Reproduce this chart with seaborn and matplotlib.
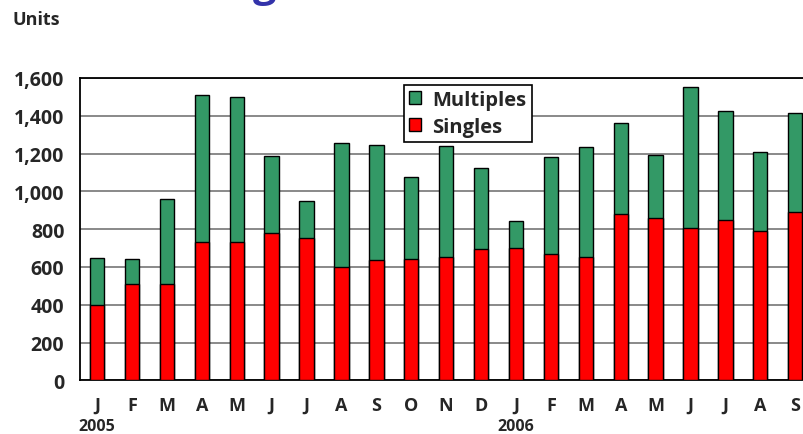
import pandas as pd
import matplotlib
matplotlib.use("Agg")
import matplotlib.pyplot as plt
import seaborn as sns
from matplotlib.patches import Patch
from matplotlib.transforms import blended_transform_factory

# === data ===
months = ["J", "F", "M", "A", "M", "J", "J", "A", "S", "O", "N", "D",
          "J", "F", "M", "A", "M", "J", "J", "A", "S"]
years = ["2005", "2006"]
year_start = [0, 12]
singles = [400, 510, 510, 730, 730, 780, 755, 600, 635, 640, 655, 695,
           700, 670, 655, 880, 860, 805, 850, 790, 890]
multiples = [245, 130, 450, 780, 770, 405, 195, 655, 610, 435, 585, 430,
             145, 510, 580, 480, 335, 745, 575, 420, 525]
yticks = [0, 200, 400, 600, 800, 1000, 1200, 1400, 1600]

df = pd.DataFrame({"idx": range(len(months)), "singles": singles, "multiples": multiples})
df["total"] = df["singles"] + df["multiples"]

green = "#339966"
red = "#FF0000"

sns.set_style("white")
plt.rcParams["font.family"] = ["Open Sans", "DejaVu Sans"]
plt.rcParams["font.weight"] = "bold"

fig = plt.figure(figsize=(8.04, 4.35), dpi=100)
ax = fig.add_axes([0.0991, 0.1234, 0.9117, 0.6950])

# green drawn full height, red overlaid -> stacked look
sns.barplot(data=df, x="idx", y="total", color=green, width=0.41,
            edgecolor="black", linewidth=1, saturation=1, ax=ax, zorder=3)
sns.barplot(data=df, x="idx", y="singles", color=red, width=0.41,
            edgecolor="black", linewidth=1, saturation=1, ax=ax, zorder=4)

ax.set_xlim(-0.5, len(months) - 0.5)
ax.set_ylim(0, 1600)
ax.set_yticks(yticks)
ax.set_yticklabels([f"{v:,}" for v in yticks], fontsize=14, fontweight="bold")
ax.yaxis.grid(True, color="#808080", linewidth=1.3, zorder=0)
ax.set_axisbelow(True)

ax.set_xticks(range(len(months)))
ax.set_xticklabels(months, fontsize=13, fontweight="bold")
ax.set_xticks([i - 0.5 for i in range(len(months) + 1)], minor=True)
ax.tick_params(axis="x", which="major", length=0, pad=11)
ax.tick_params(axis="x", which="minor", length=5, width=1, color="#444444", direction="out")
ax.tick_params(axis="y", which="major", length=7, width=1, color="black", direction="out", pad=4)
ax.set_xlabel("")
ax.set_ylabel("")

for s in ["left", "bottom", "top", "right"]:
    ax.spines[s].set_color("black")
    ax.spines[s].set_linewidth(1.3)

trans = blended_transform_factory(ax.transData, fig.transFigure)
for yr, pos in zip(years, year_start):
    ax.text(pos, 1 - 427.5 / 435, yr, transform=trans, ha="center", va="center",
            fontsize=11.5, fontweight="bold")

fig.text(13 / 804, 1 - 20 / 435, "Units", ha="left", va="center", fontsize=13, fontweight="bold")
# fragment of the cut-off title
fig.text(265 / 804, 1 + 4 / 435, "g", ha="center", va="baseline", fontsize=30,
         color="#3333AA", fontweight="bold")

handles = [Patch(facecolor=green, edgecolor="black", linewidth=1, label="Multiples"),
           Patch(facecolor=red, edgecolor="black", linewidth=1, label="Singles")]
leg = ax.legend(handles=handles, loc="upper left", bbox_to_anchor=(0.4424, 0.978),
                borderaxespad=0, fancybox=False, framealpha=1, edgecolor="black",
                prop={"size": 14.5, "weight": "bold"}, handlelength=0.62, handleheight=0.62,
                handletextpad=0.55, labelspacing=0.36, borderpad=0.25)
leg.get_frame().set_linewidth(1.2)
leg.set_zorder(10)

fig.savefig("out.png", dpi=100)
